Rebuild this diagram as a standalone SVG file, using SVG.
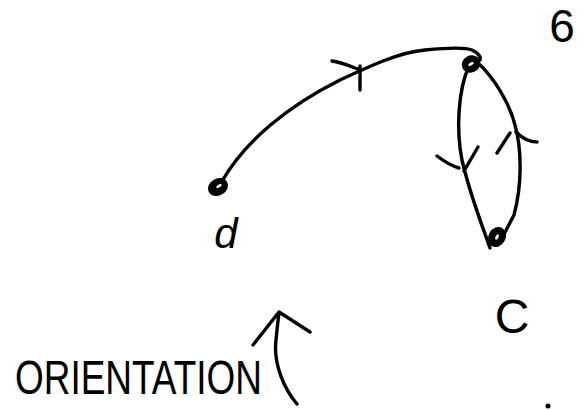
<svg xmlns="http://www.w3.org/2000/svg" width="583" height="410" viewBox="0 0 583 410">
<style>
.s{fill:none;stroke:#000;stroke-width:3.4;stroke-linecap:round;stroke-linejoin:round}
.n{fill:#000;stroke:#000;stroke-width:3}
.h{fill:#fff}
.t{font-family:"Liberation Sans",Arial,sans-serif;fill:#000}
</style>
<rect width="583" height="410" fill="#fff"/>
<g id="connectors">
<path class="s" d="M221,183 C245,140 290,105 340,80 C370,66 400,52 425,50 C445,48 465,47 472,50 C478,53 481,57 480,60"/>
<path class="s" d="M332,61 C345,63 352,67 360,70 M360,66 L360,90"/>
<path class="s" d="M469,66 C458,90 456,130 462,160 C470,195 482,225 490,248"/>
<path class="s" d="M437,156 C445,162 452,166 459,168 M478,147 L464,171"/>
<path class="s" d="M477,62 C495,78 510,105 515,125 C522,150 522,185 514,215 L502,238"/>
<path class="s" d="M516,132 C522,138 528,142 537,142 M510,133 L497,153"/>
</g>
<g id="node-d">
<ellipse class="n" cx="218" cy="187" rx="9" ry="7" transform="rotate(-30 218 187)"/>
<ellipse class="h" cx="219" cy="186" rx="3" ry="1.5" transform="rotate(-30 219 186)"/>
<text class="t" x="226" y="248" font-size="42" font-style="italic" text-anchor="middle">d</text>
</g>
<g id="node-6">
<ellipse class="n" cx="471" cy="64" rx="8" ry="7" transform="rotate(-30 471 64)"/>
<ellipse class="h" cx="471" cy="64" rx="3" ry="1.5" transform="rotate(-30 471 64)"/>
<text class="t" x="562" y="42" font-size="46" text-anchor="middle">6</text>
</g>
<g id="node-c">
<ellipse class="n" cx="497" cy="237" rx="7" ry="9" transform="rotate(30 497 237)"/>
<ellipse class="h" cx="497" cy="237" rx="1.5" ry="3" transform="rotate(30 497 237)"/>
<text class="t" x="512" y="333" font-size="48" text-anchor="middle">C</text>
</g>
<g id="orientation">
<text class="t" x="15" y="394" font-size="48" textLength="247" lengthAdjust="spacingAndGlyphs">ORIENTATION</text>
<path class="s" d="M297,404 C285,390 273,365 276,340 C277,330 278,320 279,313 M253,345 L279,312 L310,332"/>
</g>
<circle cx="548" cy="406" r="2.5" fill="#000"/>
</svg>
